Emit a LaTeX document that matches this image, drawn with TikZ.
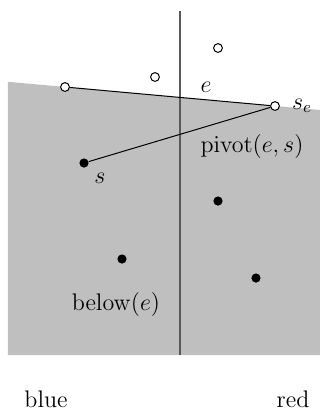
\documentclass[tikz,border=0pt]{standalone}
\begin{document}
\begin{tikzpicture}[x=0.5pt,y=-0.5pt,
  font=\fontsize{12}{14}\selectfont,
  full/.style={circle,fill=black,inner sep=0pt,minimum size=4.6pt},
  hollow/.style={circle,draw=black,fill=white,line width=0.5pt,inner sep=0pt,minimum size=4.4pt},
  lbl/.style={anchor=base,inner sep=0pt},
  seg/.style={line width=0.5pt}]
\useasboundingbox (0,0) rectangle (320,409);
\fill[black!25] (8,81.8) -- (320,110) -- (320,355) -- (8,355) -- cycle;
\coordinate (vt) at (180,11);
\coordinate (vb) at (180,355);
\draw[black!65,line width=0.6pt] (vt) -- (vb);
% points
\node[hollow] (a) at (65,87) {};
\node[hollow] (b) at (155,77) {};
\node[hollow] (c) at (218,48) {};
\node[hollow] (se) at (275,106) {};
\node[full] (s) at (84,163) {};
\node[full] (p1) at (218,201) {};
\node[full] (p2) at (122,259) {};
\node[full] (p3) at (256,278) {};
\draw[seg] (a) -- (se);
\draw[seg] (s) -- (se);
% labels
\node[lbl] (le) at (206,92) {$e$};
\node[lbl] (lse) at (302,109) {$s_e$};
\node[lbl] (lpiv) at (252,152) {$\mathrm{pivot}(e,s)$};
\node[lbl] (ls) at (100,183) {$s$};
\node[lbl] (lbel) at (116,310) {$\mathrm{below}(e)$};
\node[lbl] (lblue) at (46,407) {blue};
\node[lbl] (lred) at (293,407) {red};
\end{tikzpicture}
\end{document}
